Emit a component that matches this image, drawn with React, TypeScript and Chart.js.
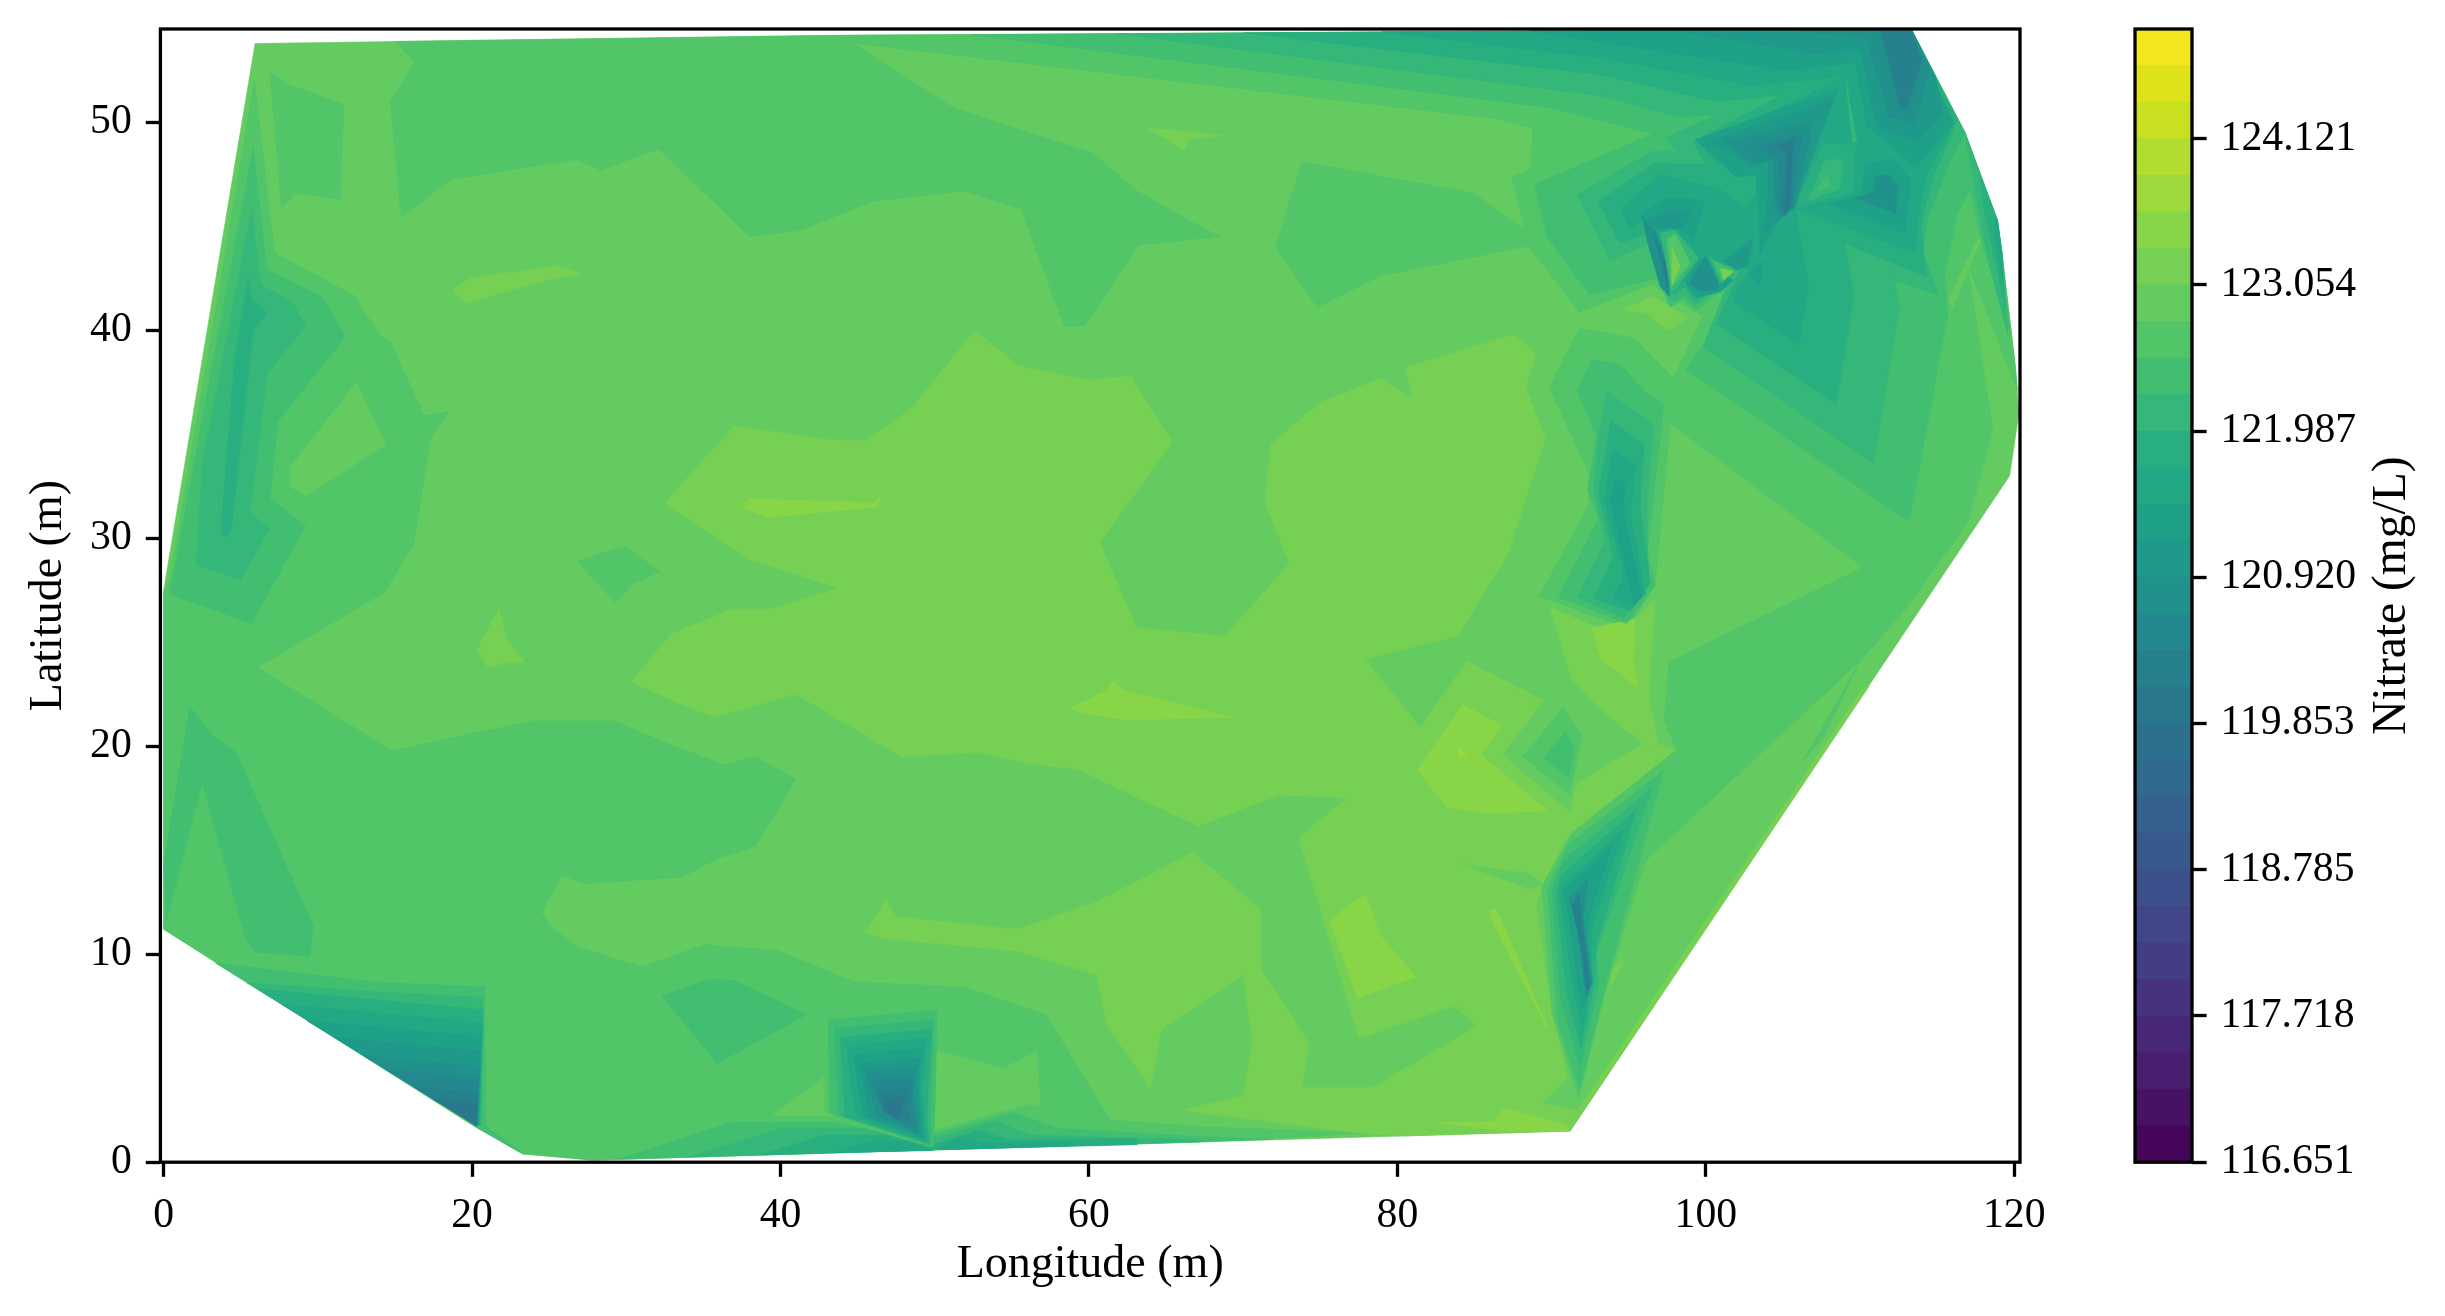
import React, { useEffect, useRef } from "react";
import { Chart, registerables } from "chart.js";

Chart.register(...registerables);

const xTicks = [0, 20, 40, 60, 80, 100, 120];
const yTicks = [0, 10, 20, 30, 40, 50];
const colorbarTicks = [116.651, 117.718, 118.785, 119.853, 120.92, 121.987, 123.054, 124.121];
const levelBounds = [
  116.651, 116.918, 117.184, 117.451, 117.718, 117.985, 118.251, 118.518, 118.785, 119.052, 119.319,
  119.586, 119.853, 120.12, 120.386, 120.653, 120.92, 121.187, 121.453, 121.72, 121.987, 122.254,
  122.52, 122.787, 123.054, 123.321, 123.587, 123.854, 124.121, 124.388, 124.654, 124.921,
];
const levelColors = [
  "#45065a", "#471164", "#481e6f", "#482777", "#46327e", "#433d84", "#404688", "#3c508b", "#38598c",
  "#34618d", "#306a8e", "#2d708e", "#2a788e", "#27808e", "#24898e", "#21918c", "#1f998a", "#1fa188",
  "#22a884", "#29af7f", "#35b779", "#42be71", "#52c569", "#63cb5f", "#75d054", "#89d548", "#9dd93b",
  "#b0dd2f", "#c8e020", "#dde318", "#f4e61e",
];

type Layer = [number, number[]];

// Each layer: contour band index, then x,y pairs in metres. Painted in order.
const baseBands: Layer[] = [
  [23, [0, 27.5, 5.93, 53.78, 15, 53.88, 41.3, 54.15, 93.2, 54.39, 113.26, 54.55, 116.8, 49.5, 118.9, 45.3, 119.2, 43.7, 120.07, 38.25, 120.3, 36, 119.7, 33, 91.2, 1.5, 27.8, 0.1, 23.3, 0.4, 20.2, 1.7, 0, 11.2]],
  [22, [15, 53.88, 16.3, 52.9, 14.7, 51, 15.4, 45.4, 18.6, 47.25, 26.8, 48.2, 28.3, 47.7, 32.1, 48.7, 38, 44.5, 41.3, 44.8, 46, 46.2, 51.9, 46.7, 55.6, 45.8, 58.4, 40.2, 59.7, 40.2, 63.2, 44.1, 68.5, 44.5, 66.4, 45.3, 63.1, 46.7, 60.3, 48.5, 51.2, 50.7, 44.75, 53.8, 44.75, 54.19]],
  [22, [6.87, 52.47, 7.87, 51.87, 11.7, 50.85, 11.44, 46.3, 8.6, 46.6, 7.65, 45.9]],
  [22, [5.88, 52, 7.2, 43.7, 12.3, 41.7, 14, 39.8, 14.7, 39.4, 16.9, 35.9, 18.5, 36.1, 17.3, 34.8, 16.2, 29.7, 14.3, 27.4, 6.1, 23.8, 14.3, 20, 14.9, 19.8, 23.8, 21.2, 29.3, 21.2, 32.4, 20.2, 36.4, 19.1, 38.4, 19.5, 41, 18.4, 38.4, 15.2, 35.9, 14.6, 33.6, 13.7, 27.3, 13.4, 25.8, 13.8, 24.5, 12, 25.1, 11.3, 27, 10.3, 31, 9.4, 35.1, 10.45, 39.9, 10.15, 44.7, 8.68, 52, 8.4, 57.2, 7.08, 61.38, 2.03, 67.2, 1.71, 78, 1.4, 67.2, 0.97, 27.8, 0.1, 23.3, 0.4, 20.2, 1.7, 0, 11.2, 0, 27.4, 0.4, 28]],
  [23, [12.5, 37.5, 14.4, 34.5, 9.2, 32, 8.2, 32.5, 8.2, 33.4]],
  [22, [44.75, 53.8, 86.4, 50.16, 88.8, 49.7, 88.6, 47.7, 87.4, 47.4, 88.1, 45.3, 88.2, 44.9, 88.5, 44.05, 91.8, 40.87, 96.5, 42.2, 99.8, 40.66, 97.9, 37.7, 95.4, 39.6, 91.8, 40.1, 89.85, 37.26, 92.45, 33.1, 92.45, 31.65, 89.2, 27.2, 94.9, 25.7, 96.7, 27.7, 97.7, 35.5, 110.2, 28.6, 97.6, 24.05, 97.3, 21.2, 98.1, 19.85, 96.1, 14.5, 110, 24.1, 112.9, 26.55, 117, 30.8, 118.6, 35.2, 117, 43.1, 120.2, 37.1, 120.07, 38.25, 119.2, 43.7, 118.9, 45.3, 116.8, 49.5, 113.26, 54.55, 93.2, 54.39, 44.75, 54.19]],
  [22, [73.8, 48.1, 84.9, 46.6, 88.2, 44.9, 88.5, 44.05, 78.9, 42.6, 74.8, 41.1, 72.1, 44]],
  [22, [26.8, 28.9, 29.9, 29.6, 32.2, 28.4, 30.4, 27.8, 29.3, 26.9]],
  [22, [106.2, 19.15, 110, 24.1, 107.7, 20.5]],
];

const brightBands: Layer[] = [
  [24, [32.5, 31.7, 37, 35.4, 43, 34.75, 45.5, 34.7, 48.5, 36.25, 52.6, 40, 55.4, 38.3, 59.9, 37.6, 62.7, 37.8, 65.4, 34.6, 60.7, 29.8, 63.1, 25.7, 68.8, 25.3, 73, 28.8, 71.4, 31.7, 71.8, 34.5, 74.9, 36.5, 78.9, 37.7, 81, 36.7, 80.5, 38.2, 87.5, 39.8, 89, 38.9, 88.3, 37.3, 89.6, 34.8, 87.2, 29.3, 85, 26.6, 83.9, 25.3, 77.9, 24.2, 81.5, 20.9, 84.5, 24.1, 89.5, 22.2, 86.8, 19.6, 91.2, 16.8, 91.6, 18.2, 95.9, 20.1, 96.9, 20.1, 98.1, 19.8, 91.2, 15.85, 89.4, 13.3, 89, 12.3, 90.02, 7.16, 91.04, 4.03, 89.45, 2.84, 91.62, 2.47, 91.2, 1.5, 80.4, 1.26, 77.4, 1.4, 66, 2.5, 70, 3.2, 70.6, 5.8, 70, 9, 64.7, 6.4, 64, 3.55, 61.2, 6.55, 60.5, 9, 55.3, 10.15, 46.6, 10.75, 45.5, 11.05, 46.8, 12.6, 47.5, 11.8, 55.3, 11.2, 60.6, 12.55, 66.7, 14.9, 71.1, 12.2, 71.1, 9.4, 74.3, 5.65, 73.8, 3.6, 78.4, 3.6, 85.2, 6.55, 83.7, 7.5, 77.5, 5.95, 73.6, 15.6, 76.7, 17.5, 72.3, 17.65, 67.1, 16.15, 63.2, 17.5, 59.2, 18.9, 56.1, 19.15, 52.9, 19.7, 47.8, 19.5, 41, 22.5, 35.7, 21.4, 33.9, 21.9, 30.3, 23.1, 32.9, 25.4, 36.9, 26.6, 39.4, 26.6, 43.7, 27.6, 37.9, 29]],
  [24, [89.9, 26.65, 91.3, 23.2, 93, 21.9, 95.9, 20.1, 96.9, 20.1, 96.3, 22.4, 96.7, 27, 95.4, 26.1, 94.7, 25.2]],
  [25, [92.6, 25.7, 95.4, 26.1, 95.3, 24, 95.6, 22.8, 93.2, 24.2]],
  [23, [66.2, 3.9, 66.2, 4.9, 68.4, 6.55, 68.6, 4.15]],
  [25, [37.5, 31.5, 38, 31.9, 46, 31.7, 46.5, 32, 46.3, 31.5, 39.1, 31]],
  [24, [18.7, 41.9, 19.8, 42.5, 25.6, 43.1, 27.2, 42.7, 25.3, 42.5, 19.6, 41.3]],
  [24, [63.6, 49.75, 68.9, 49.35, 66.5, 49.2, 66.2, 48.66, 65.1, 49.15]],
  [24, [20.3, 24.6, 21.75, 26.65, 22.25, 25.1, 23.5, 24, 22.25, 24, 21, 23.8]],
  [25, [58.75, 21.8, 61.2, 22.7, 61.5, 23.2, 62.2, 22.7, 69.3, 21.4, 62.4, 21.25, 59.7, 21.6]],
  [25, [75.6, 11.65, 77.9, 12.9, 78.9, 10.9, 81.2, 8.9, 77.4, 7.9]],
  [25, [81.3, 18.85, 84.2, 22, 86.8, 21, 85.4, 19.6, 89.7, 16.9, 86.1, 16.75, 83.2, 17.05]],
  [26, [84, 19.9, 84.5, 19.6, 84, 19.5]],
  [25, [85.95, 12.1, 86.4, 12.2, 89.7, 6.55, 89.3, 6.25, 89.6, 6.55, 86.05, 11.7]],
  [25, [82.6, 1.9, 86.2, 1.95, 86.9, 2.6, 91.2, 1.75, 91.2, 1.5, 88, 1.45, 86.9, 1.5]],
  [24, [94.5, 41, 96.6, 41.6, 98.8, 40.6, 97.6, 40, 96.7, 40.4, 96.3, 40.8]],
  [24, [93.7, 8.3, 94.8, 9.8, 94, 9.4]],
  [24, [91.2, 1.5, 110.6, 22.9, 110.2, 22.8, 91, 1.75]],
];

const leftBands: Layer[] = [
  [21, [0.4, 27.3, 5.7, 25.9, 9.2, 30.6, 6.9, 31.9, 7.4, 35.6, 11.8, 39.7, 10.3, 41.6, 6.7, 42.9, 5.8, 48.8]],
  [20, [2.1, 28.7, 5, 28, 6.9, 30.5, 5.6, 31.2, 6.7, 37.9, 9.2, 40.2, 8.4, 41.3, 6.3, 42.2, 5.7, 45.8, 2.5, 33.5]],
  [19, [3.7, 30.2, 4.1, 30.1, 4.4, 30.5, 5.8, 40, 6.7, 40.8, 5.7, 41.5, 5.5, 42.5, 4.6, 38.6]],
  [21, [1.7, 21.9, 3.2, 20.5, 4.7, 19.7, 9.7, 11.35, 9.5, 9.9, 5.9, 10.1, 5.3, 10.8, 2.5, 18.25, 0.2, 11.65, 0, 14.3]],
  [21, [3.35, 9.58, 13.8, 8.65, 20.8, 8.43, 20.9, 1.75, 20.3, 1.75]],
  [21, [20.9, 1.75, 23.3, 0.4, 22.8, 0.6, 20.3, 1.7]],
  [20, [5.4, 8.63, 13.75, 8.2, 20.7, 7.93, 20.6, 1.8, 20.3, 1.75]],
  [19, [6.1, 8.33, 20.7, 7.33, 20.5, 1.8, 20.3, 1.75]],
  [18, [7.7, 7.58, 20.7, 6.7, 20.45, 1.8, 20.3, 1.75]],
  [17, [9.3, 6.8, 20.6, 6.04, 20.4, 1.8, 20.3, 1.75]],
  [16, [11.1, 6, 20.5, 5.36, 20.35, 1.8, 20.3, 1.75]],
  [15, [12.95, 5.13, 20.5, 4.6, 20.3, 1.75]],
  [14, [14.4, 4.46, 20.4, 4.03, 20.3, 1.75]],
  [13, [16.2, 3.63, 20.4, 3.33, 20.3, 1.75]],
  [12, [17.5, 3.03, 20.35, 2.8, 20.3, 1.75]],
];

const bottomBands: Layer[] = [
  [21, [32.3, 8, 35.4, 8.8, 36.9, 8.75, 41.7, 7.1, 35.9, 4.75]],
  [23, [39.44, 2.24, 42.83, 4.09, 42.83, 2.39, 43.98, 2.27]],
  [23, [50.14, 5.37, 54.46, 4.52, 56.62, 5.32, 56.84, 2.67, 56.19, 2.8, 49.92, 1.55]],
  [21, [43.11, 6.84, 50.14, 7.32, 49.99, 1.55, 49.81, 0.75, 43.18, 2.35]],
  [20, [43.5, 6.44, 49.92, 6.84, 49.7, 1.71, 49.7, 0.83, 43.76, 2.27]],
  [19, [43.87, 6, 49.81, 6.39, 49.49, 2.51, 49.6, 0.91, 44.19, 2.19]],
  [18, [44.3, 5.59, 49.49, 5.96, 49.17, 3.32, 49.49, 0.99, 44.84, 2.19]],
  [17, [44.73, 5.16, 49.27, 5.48, 48.95, 3.64, 49.32, 1.15, 45.38, 2.19]],
  [16, [45.12, 4.76, 49.06, 5, 48.84, 3.8, 49.17, 1.31, 45.81, 2.19]],
  [15, [45.49, 4.36, 48.84, 4.6, 48.62, 3.47, 48.95, 1.39, 46.25, 2.27]],
  [14, [45.92, 3.96, 48.62, 4.09, 48.45, 3.32, 48.84, 1.55, 46.68, 2.35]],
  [13, [46.25, 3.4, 48.52, 3.56, 48.19, 2.67, 48.41, 1.87, 46.68, 2.43]],
  [12, [46.79, 3, 48.08, 3.16, 47.76, 2.35, 47.54, 2.03, 46.79, 2.51]],
  [21, [29.5, 0.14, 36.9, 1.93, 43.87, 1.9, 49.92, 0.75, 49.92, 0.6]],
  [20, [34, 0.25, 40.09, 1.63, 45.49, 1.63, 49.92, 0.67, 49.92, 0.6]],
  [19, [38.68, 0.35, 42.9, 1.31, 46.79, 1.31, 49.81, 0.67, 49.81, 0.59]],
  [18, [43.44, 0.46, 45.81, 1.02, 48.19, 1.02, 49.92, 0.56]],
  [21, [49.92, 1.36, 55.11, 2.39, 57.92, 1.63, 67.2, 1.23, 72, 1.1, 49.92, 0.6]],
  [20, [49.92, 1.15, 53.92, 2, 56.19, 1.31, 67.2, 1.07, 67.2, 0.98, 49.92, 0.6]],
  [19, [49.92, 0.83, 52.84, 1.55, 54.79, 1.07, 63.1, 1.15, 63.1, 0.84, 49.92, 0.6]],
  [18, [50.36, 0.75, 51.43, 1.15, 53.38, 0.91, 58.9, 0.99, 58.57, 0.78, 50.4, 0.6]],
];

const centreValleys: Layer[] = [
  [22, [90.75, 21.88, 91.96, 20.5, 91.18, 17.65, 88.14, 19.49]],
  [21, [90.89, 20.68, 91.47, 19.95, 91.12, 18.47, 89.5, 19.45]],
  [23, [84.23, 14.33, 88.58, 13.87, 89.45, 13.32, 88.58, 13.14]],
  [22, [98.13, 19.85, 91.33, 15.8, 89.39, 13.31, 90.02, 7.16, 91.76, 3.11, 93.64, 8.63, 96.1, 14.52]],
  [21, [97.26, 18.84, 91.04, 15.25, 89.73, 13.14, 90.37, 6.79, 91.82, 3.48, 93.56, 8.63]],
  [20, [96.54, 18, 90.75, 14.52, 90.02, 13.05, 90.6, 7.71, 91.85, 4.58, 93.06, 8.63, 92.92, 10.1]],
  [19, [95.52, 17, 90.6, 13.78, 90.31, 12.86, 90.95, 8.26, 91.9, 5.5, 92.77, 8.63, 92.92, 10.47]],
  [18, [94.66, 15.99, 90.6, 13.23, 90.66, 12.31, 91.33, 8.63, 91.99, 6.42, 92.57, 8.8, 92.63, 11.39]],
  [17, [93.93, 15.25, 90.75, 13.05, 91.12, 11.76, 91.67, 8.63, 92.05, 7.34, 92.48, 8.8, 92.34, 11.58]],
  [15, [92.34, 13.6, 91.12, 12.68, 91.62, 11.39, 92.1, 8.63, 92.25, 7.89, 92.63, 8.63, 92.05, 11.76]],
  [13, [91.76, 12.86, 91.33, 12.31, 91.9, 10.47, 92.28, 8.26, 92.48, 8.45, 92.1, 10.84]],
  [21, [92.61, 38.6, 94.45, 38.33, 96.18, 36.97, 97.26, 36.4, 96.93, 34.08, 96.18, 29.27, 96.72, 27.75, 94.88, 25.9, 90.45, 27.16, 93.04, 30.96, 92.33, 32.32, 92.93, 34.88, 91.64, 37.13]],
  [20, [93.47, 37.13, 96.6, 35.44, 96.18, 31.52, 96.28, 28, 96.07, 27.59, 94.66, 26.15, 91.64, 27.16, 93.47, 29.9, 92.72, 32.32, 93.04, 34.88, 93.47, 36.65]],
  [19, [93.8, 35.68, 96, 34.48, 95.74, 31.52, 96.39, 27.83, 95.1, 26.47, 92.76, 27.11, 94.01, 29.11, 93.04, 32.16, 93.69, 34.88]],
  [18, [94.01, 34.27, 95.42, 33.52, 95.1, 31.2, 96.07, 27.35, 95.31, 26.71, 93.97, 27.11, 94.71, 28.23, 93.41, 31.84, 93.91, 33.98]],
  [17, [94.19, 32.88, 94.77, 32.61, 94.66, 31.2, 95.85, 27.19, 95.35, 26.87, 93.8, 31.84]],
];

const upperRightBands: Layer[] = [
  [21, [52.4, 54.2, 89.9, 50.7, 96.6, 49.44, 88.9, 47, 89.7, 44.5, 92.45, 41.7, 96.83, 42.5, 97.7, 41.1, 98.56, 41.5, 99.3, 40.95, 100.9, 41.8, 101.6, 41.9, 100.7, 40.4, 99.75, 39.2, 98.7, 38.1, 113.2, 30.8, 115.66, 40.7, 115.5, 42.7, 116.3, 45.6, 117.15, 46.75, 117.84, 44.35, 119.74, 39.85, 119.2, 43.7, 118.9, 45.3, 116.8, 49.5, 113.26, 54.55, 93.2, 54.39]],
  [23, [115.74, 41.54, 117.7, 44.5, 117.84, 44.35, 115.96, 40.98]],
  [20, [61.8, 54.25, 93.15, 51.27, 98.34, 50.24, 100.83, 50.4, 97.37, 49.23, 98.13, 48.6, 96.5, 48.6, 91.64, 46.5, 93.76, 43.35, 96.5, 44.2, 97.43, 41.7, 98, 41.4, 98.6, 41.7, 99.3, 41.2, 100.6, 41.86, 101.6, 42.6, 99.83, 39.2, 110.86, 33.6, 112.55, 41.06, 112.24, 42.4, 115.1, 41.7, 114.1, 43.7, 114.34, 45.3, 115.96, 48.35, 116.8, 49.5, 113.26, 54.55, 93.2, 54.39]],
  [20, [116.8, 49.5, 118.9, 45.3, 119.2, 43.7, 119.6, 39.7, 118.3, 43.4, 117.6, 46.1]],
  [19, [117.8, 47.4, 118.9, 45.3, 119.2, 43.7, 119.4, 41.1, 118.66, 43.7, 118, 45.9]],
  [18, [118.66, 45.45, 118.9, 45.3, 119.2, 43.7, 119.3, 42.2, 118.9, 43.7]],
  [19, [70.06, 54.3, 93.15, 52.28, 100.7, 51, 104.94, 51.3, 99.2, 49.07, 99.96, 47.95, 96.72, 48.03, 93.05, 46.2, 94.4, 44.2, 96.4, 44.66, 97.26, 42.1, 98, 41.7, 98.6, 42.1, 99.3, 41.46, 100.6, 42.2, 102.45, 43.3, 100.68, 40.3, 108.46, 36.46, 109.6, 41.6, 109.04, 44.15, 114.34, 42.58, 114.1, 43.7, 114, 45.3, 114.77, 47.4, 115.85, 49.3, 116.3, 50.1, 113.26, 54.55, 93.2, 54.39]],
  [18, [79, 54.35, 93.15, 53.1, 103, 51.76, 109, 52.2, 100.3, 49.07, 101.9, 47.4, 103.3, 47.4, 103.3, 46.6, 102.56, 45.8, 100.94, 46.75, 97.05, 47.5, 94.5, 45.83, 95.1, 44.9, 95.86, 45.3, 96.83, 44.66, 97.5, 42.4, 98, 42.1, 98.67, 42.4, 99.64, 41.78, 100.7, 42.4, 103.1, 44.4, 102.67, 42.74, 101.7, 41.4, 106, 39.34, 106.66, 42.1, 105.8, 45.87, 113.58, 43.7, 113.7, 45.3, 114.34, 47.55, 116.07, 49.95, 113.26, 54.55, 93.2, 54.39]],
  [20, [109.04, 52.2, 109.8, 49, 109.5, 49.07]],
  [19, [105.7, 45.87, 107.6, 49, 109.7, 48.9, 109.5, 46.6]],
  [20, [106.56, 46.2, 107.75, 48.2, 108.9, 48.2, 108.7, 46.8]],
  [21, [107.1, 46.67, 107.85, 47.47, 108.07, 46.9]],
  [17, [88.6, 54.39, 93.15, 53.86, 105.04, 52.5, 109.7, 52.84, 110.45, 49.87, 113.58, 47.8, 116.07, 49.95, 113.26, 54.55, 93.2, 54.39]],
  [16, [97.7, 54.45, 107.2, 53.3, 110, 53.5, 111.1, 49.8, 113.7, 49.07, 115.4, 50.43, 114.88, 52.2, 113.26, 54.55]],
  [15, [104.2, 54.5, 110.45, 54.1, 111.85, 50.27, 113.47, 49.95, 114.55, 52.5, 114.1, 53.3, 113.26, 54.55]],
  [13, [111.3, 54.5, 112.6, 50.72, 113.04, 50.67, 114, 53, 113.26, 54.55]],
  [17, [108.6, 51.63, 99.3, 49.15, 101.9, 47.4, 103.3, 47.47, 103.5, 44.8, 103.5, 43.7, 104.83, 45.47, 105.8, 45.87, 106.25, 47.07]],
  [16, [108.3, 51.15, 100.3, 49.07, 103.1, 47.87, 104.07, 48.2, 104.07, 46.6, 103.75, 44.66, 105.04, 45.55, 105.7, 45.87, 107.4, 49.47]],
  [15, [106.9, 50.03, 101.26, 49.07, 103.3, 47.95, 104.4, 48.27, 104.4, 46.27, 104.83, 45.47, 105.7, 45.87, 106.66, 49]],
  [14, [106.25, 49.4, 103.3, 48.9, 104.4, 48.2, 104.7, 48.35, 104.6, 46.27, 105, 45.47, 105.6, 45.95, 105.9, 47.87]],
  [13, [105.7, 49.23, 104.4, 48.83, 105.26, 48.5, 104.94, 45.95, 105.15, 45.47, 105.5, 45.95, 105.6, 48.2]],
  [12, [105.5, 48.75, 105.37, 48.35, 105.26, 46.43, 105.3, 45.8, 105.5, 47.23]],
  [17, [107.85, 46.1, 112.93, 44.66, 113.25, 47.2, 112.17, 48.27, 110.34, 47.95, 110.12, 46.5]],
  [15, [109.7, 46.35, 112.3, 45.63, 112.5, 46.9, 111.85, 47.47, 111, 47.4, 110.9, 46.67]],
  [16, [103.05, 44.42, 101.15, 43.3, 102, 42.9, 102.67, 43.06]],
  [17, [103.75, 43.38, 103.5, 42.18, 102.77, 42.66]],
  [17, [95.75, 45.55, 97.5, 46.35, 99.96, 46.27, 99.2, 44.34, 98, 44.98, 96.83, 44.82]],
  [16, [96.2, 45.3, 97.8, 45.8, 99, 45.7, 98.56, 44.9, 98, 44.9, 96.83, 44.9]],
  [15, [95.86, 45.47, 96.72, 44.82, 97.48, 43.4, 97.65, 41.62, 97.05, 42.1, 96.3, 44]],
  [13, [96.57, 44.66, 97.15, 43.2, 97.54, 41.86, 97.48, 43.06]],
  [20, [97.05, 44.66, 98, 44.82, 99.53, 43.46, 97.8, 41.78]],
  [22, [97.48, 44.34, 98, 44.66, 99, 43.22, 97.8, 42.1]],
  [24, [97.8, 44, 98.34, 43.06, 97.8, 42.18]],
  [17, [99.64, 43.46, 98.67, 42.26, 99.4, 41.54, 100.94, 41.86, 101.8, 42.4]],
  [15, [99.96, 43.54, 98.9, 42.26, 99.64, 41.86, 100.7, 41.94, 100.94, 42.18, 100.07, 43.46]],
  [19, [100.07, 43.62, 102, 42.9, 100.9, 42.18]],
  [21, [100.4, 43.38, 101.9, 42.87, 101.05, 42.34]],
  [24, [100.94, 42.98, 101.8, 42.82, 101.15, 42.42]],
];

const contourLayers: Layer[] = [...baseBands, ...brightBands, ...leftBands, ...bottomBands, ...centreValleys, ...upperRightBands];

const SERIF = "'Liberation Serif', 'DejaVu Serif', serif";
const TICK_FONT = { family: SERIF, size: 41.7 };
const TITLE_FONT = { family: SERIF, size: 46 };

const frame = {
  id: "frame",
  afterDatasetsDraw(chart: Chart) {
    const { ctx, chartArea: a } = chart;
    ctx.save();
    ctx.strokeStyle = "#000";
    ctx.lineWidth = 3.3;
    ctx.strokeRect(a.left, a.top, a.right - a.left, a.bottom - a.top);
    ctx.restore();
  },
};

const colorbarTitle = {
  id: "colorbarTitle",
  afterDraw(chart: Chart) {
    const { ctx, chartArea: a } = chart;
    ctx.save();
    ctx.translate(293, (a.top + a.bottom) / 2);
    ctx.rotate(-Math.PI / 2);
    ctx.font = `47.5px ${SERIF}`;
    ctx.fillStyle = "#000";
    ctx.textAlign = "center";
    ctx.textBaseline = "middle";
    ctx.fillText("Nitrate (mg/L)", 0, 0);
    ctx.restore();
  },
};

const tickGrid = { display: true, drawOnChartArea: false, drawTicks: true, tickLength: 14.6, tickWidth: 3.3, tickColor: "#000" };
const noVerticalMargin = (s: any) => { s.paddingTop = 0; s.paddingBottom = 0; };
const noHorizontalMargin = (s: any) => { s.paddingLeft = 0; s.paddingRight = 0; };

export default function App() {
  const mainRef = useRef<HTMLCanvasElement>(null);
  const barRef = useRef<HTMLCanvasElement>(null);

  useEffect(() => {
    const main = new Chart(mainRef.current!, {
      type: "scatter",
      data: {
        datasets: contourLayers.map(([level, flat], i) => {
          const points: { x: number; y: number }[] = [];
          for (let k = 0; k < flat.length; k += 2) points.push({ x: flat[k], y: flat[k + 1] });
          points.push({ x: flat[0], y: flat[1] });
          return {
            label: `band ${level}`,
            data: points,
            showLine: true,
            fill: "shape",
            order: -i,
            pointRadius: 0,
            pointHoverRadius: 0,
            borderWidth: 0.6,
            tension: 0,
            borderColor: levelColors[level],
            backgroundColor: levelColors[level],
          };
        }),
      },
      options: {
        responsive: false,
        animation: false,
        events: [],
        layout: { padding: { top: 29, right: 425, left: 0, bottom: 0 } },
        plugins: { legend: { display: false }, tooltip: { enabled: false }, filler: { drawTime: "beforeDatasetDraw" } },
        scales: {
          x: {
            type: "linear",
            min: -0.21,
            max: 120.37,
            afterFit: (s: any) => { s.height = 153.8; noHorizontalMargin(s); },
            afterBuildTicks: (s: any) => { s.ticks = xTicks.map((value) => ({ value })); },
            border: { display: false },
            grid: tickGrid,
            ticks: { autoSkip: false, maxRotation: 0, minRotation: 0, color: "#000", font: TICK_FONT, padding: 14, callback: (v: any) => String(v) },
            title: { display: true, text: "Longitude (m)", color: "#000", font: TITLE_FONT, padding: { top: 0, bottom: 23 } },
          },
          y: {
            type: "linear",
            min: 0,
            max: 54.48,
            afterFit: (s: any) => { s.width = 160.4; noVerticalMargin(s); },
            afterBuildTicks: (s: any) => { s.ticks = yTicks.map((value) => ({ value })); },
            border: { display: false },
            grid: tickGrid,
            ticks: { autoSkip: false, color: "#000", font: TICK_FONT, padding: 14, callback: (v: any) => String(v) },
            title: { display: true, text: "Latitude (m)", color: "#000", font: TITLE_FONT, padding: { top: 21, bottom: 0 } },
          },
        },
      },
      plugins: [frame],
    } as any);

    const bar = new Chart(barRef.current!, {
      type: "bar",
      data: {
        labels: ["Nitrate"],
        datasets: levelColors.map((color, i) => ({
          label: levelBounds[i].toFixed(3),
          data: [[levelBounds[i], levelBounds[i + 1]]],
          backgroundColor: color,
          borderWidth: 0,
          grouped: false,
          barPercentage: 1,
          categoryPercentage: 1,
        })),
      },
      options: {
        responsive: false,
        animation: false,
        events: [],
        layout: { padding: { top: 29, left: 35, right: 0, bottom: 153.8 } },
        plugins: { legend: { display: false }, tooltip: { enabled: false } },
        scales: {
          x: { display: false },
          y: {
            position: "right",
            type: "linear",
            min: levelBounds[0],
            max: levelBounds[levelBounds.length - 1],
            afterFit: (s: any) => { s.width = 253; noVerticalMargin(s); },
            afterBuildTicks: (s: any) => { s.ticks = colorbarTicks.map((value) => ({ value })); },
            border: { display: false },
            grid: tickGrid,
            ticks: { autoSkip: false, color: "#000", font: TICK_FONT, padding: 14, callback: (v: any) => Number(v).toFixed(3) },
          },
        },
      },
      plugins: [frame, colorbarTitle],
    } as any);

    return () => {
      main.destroy();
      bar.destroy();
    };
  }, []);

  return (
    <div style={{ position: "absolute", left: 0, top: 0, width: 2445, height: 1316, background: "#fff", overflow: "hidden" }}>
      <canvas ref={mainRef} width={2445} height={1316} style={{ position: "absolute", left: 0, top: 0 }} />
      <canvas ref={barRef} width={345} height={1316} style={{ position: "absolute", left: 2100, top: 0 }} />
    </div>
  );
}
